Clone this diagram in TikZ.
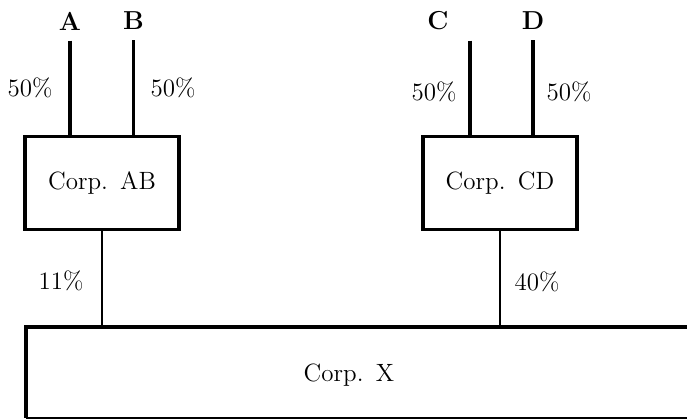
\documentclass[tikz,border=0pt]{standalone}
\usepackage{tikz}

\begin{document}
\begin{tikzpicture}[x=0.5pt, y=-0.5pt,
  corpbox/.style={draw, line width=1.6pt, minimum width=77pt, minimum height=46.5pt, inner sep=0pt, font=\fontsize{12.5}{14}\selectfont},
  owner/.style={font=\fontsize{13}{15}\selectfont\bfseries, inner sep=5pt},
  share/.style={font=\fontsize{12.5}{14}\selectfont, inner sep=0pt},
  ownline/.style={line width=1.8pt},
  subline/.style={line width=1.3pt},
  xline/.style={line width=1.6pt}]
  \clip (0,0) rectangle (687,419);
  % holding companies
  \node[corpbox] (AB) at (102,183) {Corp.~\,AB};
  \node[corpbox] (CD) at (500,183) {Corp.~\,CD};
  % shareholders
  \node[owner] (A) at (70,21) {A};
  \node[owner] (B) at (133.5,21) {B};
  \node[owner] (C) at (438,21) {C};
  \node[owner] (D) at (533,21) {D};
  \draw[ownline] (A.south) -- (A.south |- AB.north);
  \draw[ownline] (B.south) -- (B.south |- AB.north);
  \draw[ownline] ([xshift=16pt]C.south) -- ([xshift=16pt]C.south |- CD.north);
  \draw[ownline] (D.south) -- (D.south |- CD.north);
  \node[share] (pa) at (30,88) {50\%};
  \node[share] (pb) at (173,88) {50\%};
  \node[share] (pc) at (434,92) {50\%};
  \node[share] (pd) at (569,92) {50\%};
  % operating company
  \coordinate (xtop) at (26,327);
  \coordinate (xbot) at (26,417.5);
  \draw[xline] ([xshift=340pt]xtop) -- (xtop) -- (xbot);
  \draw[line width=1pt] (xbot) -- ([xshift=340pt]xbot);
  \node[corpbox, draw=none, minimum width=0pt, minimum height=0pt] (X) at (349,375) {Corp.~\,X};
  \draw[subline] (AB.south) -- (AB.south |- xtop);
  \draw[subline] (CD.south) -- (CD.south |- xtop);
  \node[share] (pab) at (61,281) {11\%};
  \node[share] (pcd) at (537,282) {40\%};
\end{tikzpicture}
\end{document}
